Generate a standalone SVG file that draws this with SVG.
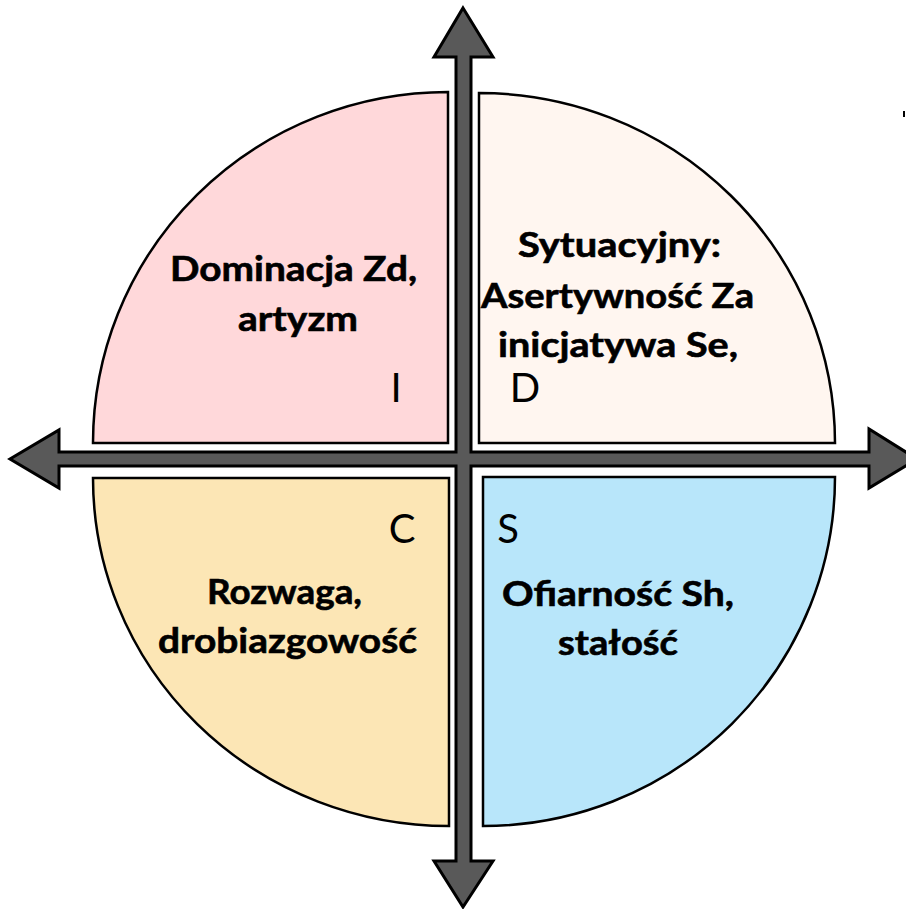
<svg xmlns="http://www.w3.org/2000/svg" width="906" height="909" viewBox="0 0 906 909">
  <style>
    .q { stroke: #000; stroke-width: 2.5; stroke-linejoin: miter; }
    .lbl { font-family: Lato, "Liberation Sans", sans-serif; font-weight: bold; font-size: 34px; fill: #000; stroke: #000; stroke-width: 0.6; text-anchor: middle; }
    .ltr { font-family: Lato, "Liberation Sans", sans-serif; font-weight: normal; font-size: 40px; fill: #000; text-anchor: middle; }
    .axis { fill: #595959; stroke: #000; stroke-width: 3; stroke-linejoin: miter; }
  </style>
  <rect width="906" height="909" fill="#ffffff"/>

  <g id="node-I">
    <path class="q" fill="#FFD8DA" d="M448,443 L93,443 A355,351 0 0 1 448,92 Z"/>
    <text class="lbl" x="293.5" y="281" textLength="247" lengthAdjust="spacingAndGlyphs">Dominacja Zd,</text>
    <text class="lbl" x="298" y="331" textLength="120" lengthAdjust="spacingAndGlyphs">artyzm</text>
    <text class="ltr" x="396" y="402">I</text>
  </g>

  <g id="node-D">
    <path class="q" fill="#FFF6F0" d="M479,443 L479,93 A356,350 0 0 1 835,443 Z"/>
    <text class="lbl" x="619.5" y="257" textLength="203" lengthAdjust="spacingAndGlyphs">Sytuacyjny:</text>
    <text class="lbl" x="617.5" y="308" textLength="273" lengthAdjust="spacingAndGlyphs">Asertywność Za</text>
    <text class="lbl" x="618" y="357" textLength="240" lengthAdjust="spacingAndGlyphs">inicjatywa Se,</text>
    <text class="ltr" x="525" y="402">D</text>
  </g>

  <g id="node-C">
    <path class="q" fill="#FCE6B5" d="M449,478 L449,826 A356,348 0 0 1 93,478 Z"/>
    <text class="lbl" x="284.5" y="604" textLength="155" lengthAdjust="spacingAndGlyphs">Rozwaga,</text>
    <text class="lbl" x="287.5" y="653" textLength="259" lengthAdjust="spacingAndGlyphs">drobiazgowość</text>
    <text class="ltr" x="402" y="543">C</text>
  </g>

  <g id="node-S">
    <path class="q" fill="#B8E6FA" d="M483,477 L835,477 A352,349 0 0 1 483,826 Z"/>
    <text class="lbl" x="618" y="606" textLength="232" lengthAdjust="spacingAndGlyphs">Ofiarność Sh,</text>
    <text class="lbl" x="618" y="655" textLength="120" lengthAdjust="spacingAndGlyphs">stałość</text>
    <text class="ltr" x="508" y="543">S</text>
  </g>

  <g id="connectors">
    <polygon class="axis" points="463,8 493,57 471,57 471,452 869,452 869,429 917,459 869,488 869,466 471,466 471,861 493,861 463,907 434,861 456,861 456,466 59,466 59,488 10,459 59,430 59,452 456,452 456,57 434,57"/>
  </g>

  <rect x="903" y="111" width="2" height="6" fill="#000"/>
</svg>
